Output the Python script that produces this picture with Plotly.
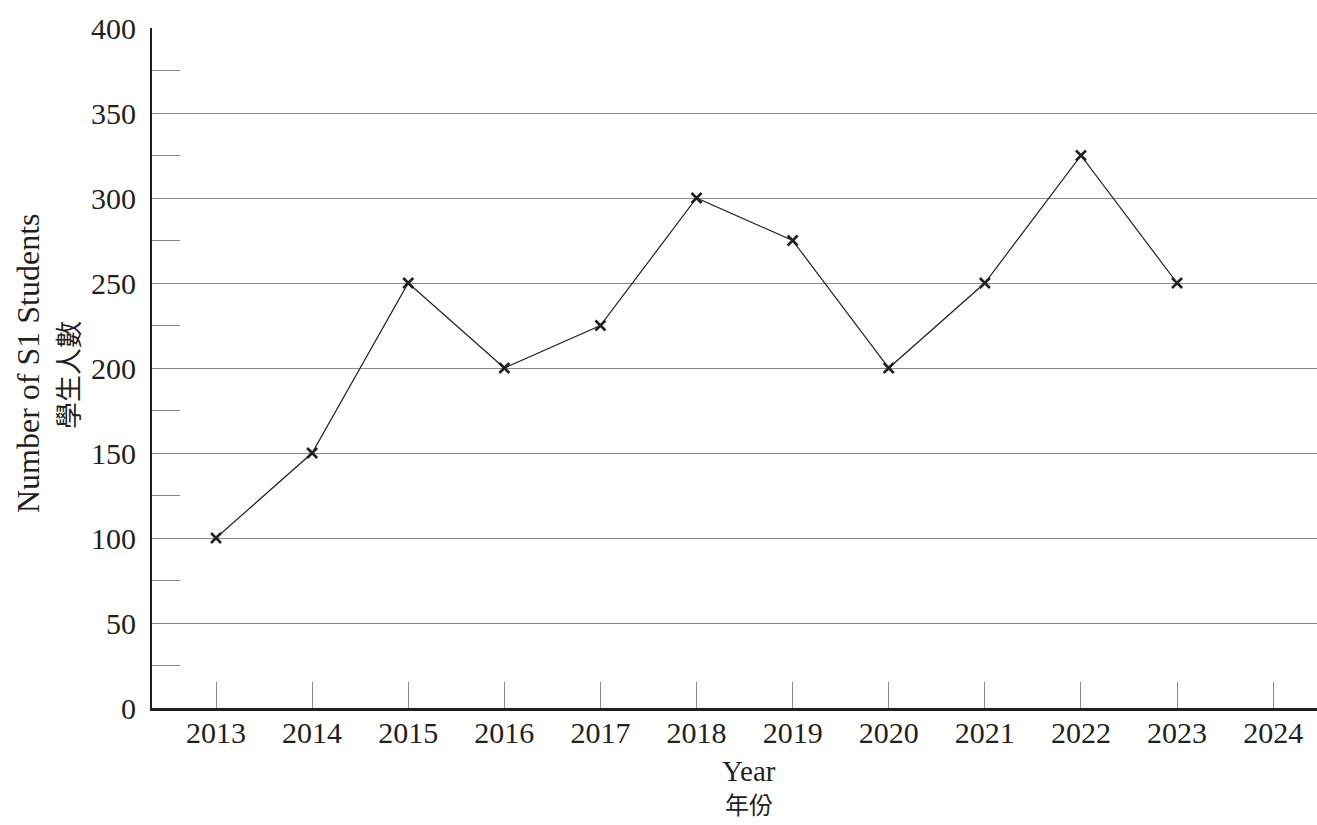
import plotly.graph_objects as go

years = [2013, 2014, 2015, 2016, 2017, 2018, 2019, 2020, 2021, 2022, 2023]
students = [100, 150, 250, 200, 225, 300, 275, 200, 250, 325, 250]
x_ticks = [2013, 2014, 2015, 2016, 2017, 2018, 2019, 2020, 2021, 2022, 2023, 2024]
y_ticks = [0, 50, 100, 150, 200, 250, 300, 350, 400]
y_minor = [25, 75, 125, 175, 225, 275, 325, 375]

serif = "Liberation Serif, Times New Roman, serif"
cjk = "Noto Sans CJK TC, Noto Sans CJK SC, sans-serif"
ink = "#231f20"

fig = go.Figure()
fig.add_trace(go.Scatter(
    x=years, y=students, mode="lines+markers",
    line=dict(color=ink, width=1.2),
    marker=dict(symbol="x-thin", size=10, line=dict(color=ink, width=2.6), color=ink),
    showlegend=False, cliponaxis=False,
))

fig.update_layout(
    width=1317, height=825,
    margin=dict(l=152, r=0, t=28, b=117),
    paper_bgcolor="white", plot_bgcolor="white",
    font=dict(family=serif, color=ink),
)

fig.update_xaxes(
    range=[2012.334, 2024.456],
    tickmode="array", tickvals=x_ticks, ticktext=[str(v) for v in x_ticks],
    ticks="inside", ticklen=26, tickcolor="#8a8a8a", tickwidth=1,
    showgrid=False, zeroline=False,
    showline=True, linecolor=ink, linewidth=3,
    tickfont=dict(size=30, family=serif, color=ink),
    ticklabelstandoff=-4,
)

fig.update_yaxes(
    range=[0, 400],
    tickmode="array", tickvals=y_ticks,
    ticks="", showgrid=True, gridcolor="#8a8a8a", gridwidth=1,
    zeroline=False,
    showline=True, linecolor=ink, linewidth=2,
    tickfont=dict(size=30, family=serif, color=ink),
    ticklabelstandoff=8,
    minor=dict(tickmode="array", tickvals=y_minor,
               ticks="inside", ticklen=28, tickcolor="#8a8a8a", tickwidth=1, showgrid=False),
)

fig.add_annotation(text="Number of S1 Students", xref="paper", yref="paper", x=0, y=0.5,
                   xanchor="center", yanchor="middle", xshift=-124, yshift=5, textangle=-90,
                   showarrow=False, font=dict(size=32, family=serif, color=ink))
fig.add_annotation(text="學生人數", xref="paper", yref="paper", x=0, y=0.5,
                   xanchor="center", yanchor="middle", xshift=-85, yshift=-7, textangle=-90,
                   showarrow=False, font=dict(size=27, family=cjk, color=ink))
fig.add_annotation(text="Year", xref="paper", yref="paper", x=0.5, y=0,
                   xanchor="center", yanchor="middle", xshift=14, yshift=-63,
                   showarrow=False, font=dict(size=29, family=serif, color=ink))
fig.add_annotation(text="年份", xref="paper", yref="paper", x=0.5, y=0,
                   xanchor="center", yanchor="middle", xshift=14, yshift=-95,
                   showarrow=False, font=dict(size=24, family=cjk, color=ink))

fig.write_html("out.html", config={"displayModeBar": False},
               post_script="document.body.style.margin='0';document.body.style.overflow='hidden';")
